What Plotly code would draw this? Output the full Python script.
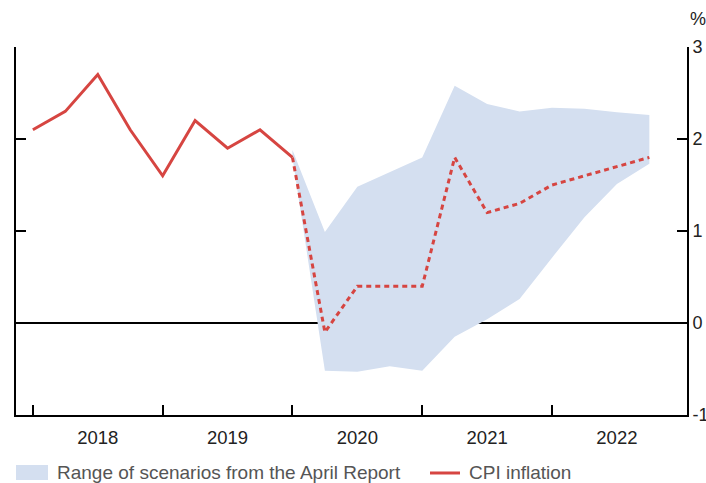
import plotly.graph_objects as go

quarters = list(range(20))  # 2018 Q1 .. 2022 Q4
cpi = [2.1, 2.3, 2.7, 2.1, 1.6, 2.2, 1.9, 2.1, 1.8,
       -0.1, 0.4, 0.4, 0.4, 1.8, 1.2, 1.3, 1.5, 1.6, 1.7, 1.8]
band_x = list(range(8, 20))
band_high = [1.88, 0.99, 1.48, 1.64, 1.80, 2.58, 2.38, 2.30, 2.34, 2.33, 2.29, 2.26]
band_low = [1.80, -0.52, -0.53, -0.47, -0.52, -0.15, 0.04, 0.26, 0.71, 1.15, 1.51, 1.73]
year_pos = [2, 6, 10, 14, 18]
year_labels = ["2018", "2019", "2020", "2021", "2022"]
year_bounds = [0, 4, 8, 12, 16]
y_ticks = [-1, 0, 1, 2, 3]
y_tick_labels = ["-1", "0", "1", "2", "3"]
legend_band = "Range of scenarios from the April Report"
legend_cpi = "CPI inflation"

RED = "#d64541"
BAND = "#d4dff0"
FONT = "Liberation Sans, Arial, sans-serif"

fig = go.Figure()
fig.add_trace(go.Scatter(
    x=band_x + band_x[::-1], y=band_high + band_low[::-1],
    fill="toself", fillcolor=BAND, line=dict(width=0, color=BAND),
    mode="lines", name=legend_band, hoverinfo="skip", showlegend=False))
fig.add_trace(go.Scatter(
    x=quarters[:9], y=cpi[:9], mode="lines",
    line=dict(color=RED, width=3), name=legend_cpi, showlegend=False))
fig.add_trace(go.Scatter(
    x=quarters[8:], y=cpi[8:], mode="lines",
    line=dict(color=RED, width=3, dash="5px,4px"), showlegend=False))

fig.update_layout(
    width=706, height=483,
    margin=dict(l=16, r=19, t=47, b=68, autoexpand=False),
    paper_bgcolor="white", plot_bgcolor="white",
    font=dict(family=FONT, size=18, color="#222"),
    showlegend=False,
    xaxis=dict(range=[-0.52, 20.16], showgrid=False, zeroline=False, automargin=False,
               showline=True, linecolor="black", linewidth=2,
               tickvals=year_pos, ticktext=year_labels, ticks="",
               ticklabelstandoff=5,
               tickfont=dict(size=18.5, color="#222"),
               minor=dict(tickvals=year_bounds, ticks="inside", ticklen=10,
                          tickwidth=2, tickcolor="black", showgrid=False)),
    yaxis=dict(range=[-1, 3], side="right", showgrid=False, automargin=False,
               zeroline=True, zerolinecolor="black", zerolinewidth=2,
               showline=True, linecolor="black", linewidth=2, mirror="ticks",
               tickvals=y_ticks, ticktext=y_tick_labels,
               ticks="inside", ticklen=10, tickwidth=2,
               ticklabelstandoff=0,
               tickcolor="black", tickfont=dict(size=18, color="#222")),
)

# legend drawn in paper coordinates
fig.add_shape(type="rect", xref="paper", yref="paper",
              x0=0.0, x1=0.0477, y0=-0.1766, y1=-0.1359,
              fillcolor=BAND, line=dict(width=0))
fig.add_annotation(text=legend_band, xref="paper", yref="paper", x=0.0581, y=-0.1576,
                   xanchor="left", yanchor="middle", showarrow=False,
                   font=dict(size=19, color="#555"))
fig.add_shape(type="line", xref="paper", yref="paper",
              x0=0.617, x1=0.6617, y0=-0.1576, y1=-0.1576,
              line=dict(color=RED, width=3))
fig.add_annotation(text=legend_cpi, xref="paper", yref="paper", x=0.672, y=-0.1576,
                   xanchor="left", yanchor="middle", showarrow=False,
                   font=dict(size=19, color="#555"))
fig.add_annotation(text="%", xref="paper", yref="paper", x=1.002, y=1.076,
                   xanchor="left", yanchor="middle", showarrow=False,
                   font=dict(size=18, color="#222"))

fig.write_html("out.html", config={"displayModeBar": False},
               post_script="document.body.style.margin='0';document.body.style.overflow='hidden';")
